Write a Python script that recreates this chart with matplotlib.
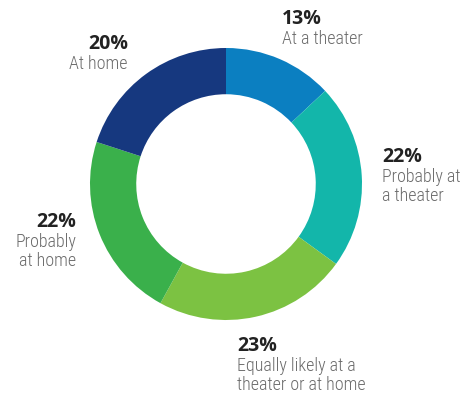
import matplotlib
matplotlib.use("Agg")
import matplotlib.pyplot as plt
from matplotlib import font_manager
from matplotlib.font_manager import FontProperties

categories = ["At a theater", "Probably at\na theater", "Equally likely at a\ntheater or at home",
              "Probably\nat home", "At home"]
values = [13, 22, 23, 22, 20]
colors = ["#0b7fc1", "#13b6aa", "#7cc242", "#3ab04b", "#16387f"]


def pick_label_font():
    fl = font_manager.fontManager.ttflist
    prefs = ["Roboto Condensed", "Fira Sans Condensed", "Sofia Sans Condensed",
             "Open Sans Condensed"]
    for p in prefs:
        c = [f for f in fl if f.name == p and f.style == "normal"]
        if c:
            c.sort(key=lambda f: abs((f.weight if isinstance(f.weight, int) else 400) - 300))
            return FontProperties(fname=c[0].fname)
    return FontProperties(family="DejaVu Sans")


label_fp = pick_label_font()

W, H = 464, 400
fig = plt.figure(figsize=(W / 100, H / 100), dpi=100)
ax = fig.add_axes([0, 0, 1, 1])
ax.set_xlim(0, W)
ax.set_ylim(0, H)
ax.set_aspect("equal")
ax.axis("off")

cx, cy, R = 226, H - 184, 136
ax.pie(values, colors=colors, startangle=90, counterclock=False,
       center=(cx, cy), radius=R,
       wedgeprops=dict(width=R * 0.34, edgecolor="none"))
ax.set_xlim(0, W)
ax.set_ylim(0, H)

# label anchors (x, top y in px, alignment)
anchors = [(282, 9, "left"), (382, 147, "left"), (237, 336, "left"),
           (76, 212, "right"), (128, 34, "right")]

for (x, ytop, ha), val, cat in zip(anchors, values, categories):
    ax.text(x, H - ytop, f"{val}%", ha=ha, va="top", fontsize=14,
            fontweight="bold", color="#222222", family="Open Sans")
    fp = label_fp.copy()
    fp.set_size(13)
    ax.text(x, H - ytop - 21, cat, ha=ha, va="top", fontproperties=fp,
            color="#6b6b6b", linespacing=1.1)

fig.savefig("out.png", dpi=100)
